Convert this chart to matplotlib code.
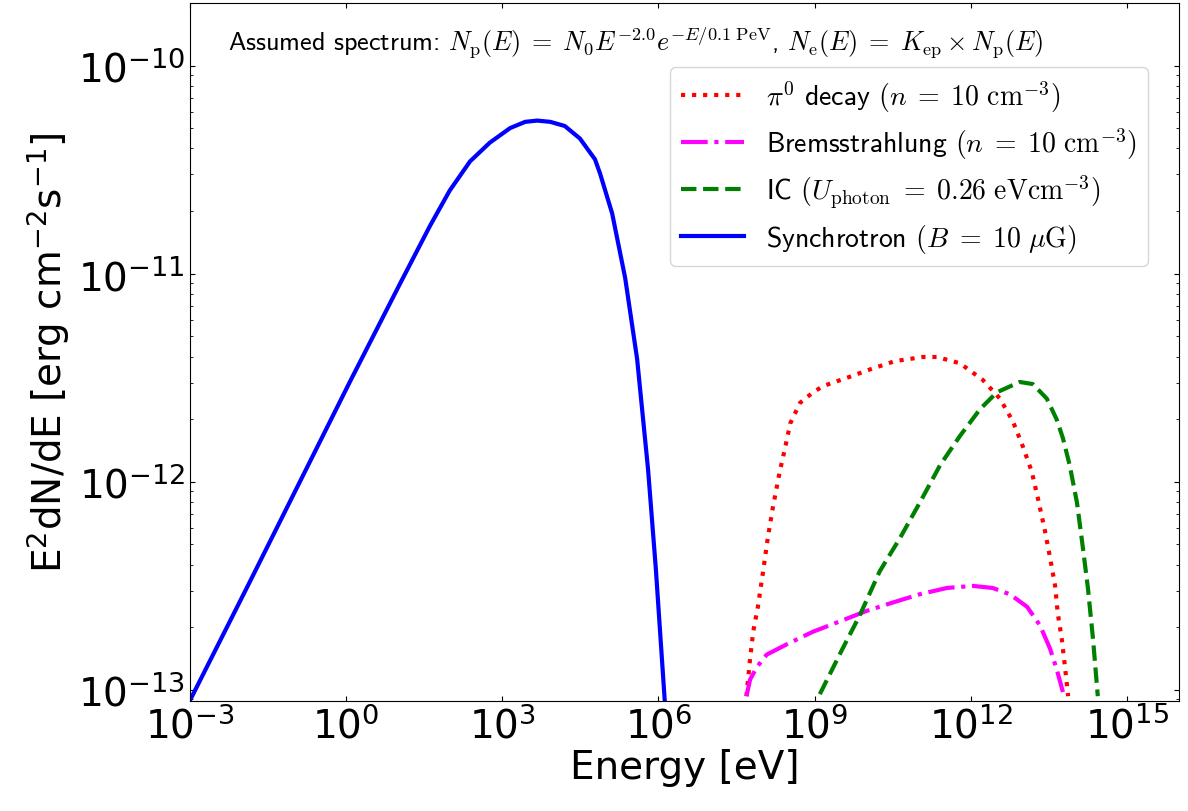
import numpy as np
import matplotlib
matplotlib.use("Agg")
import matplotlib.pyplot as plt
from matplotlib.ticker import LogLocator, NullLocator

# ---- data (log10 E [eV], log10 E^2 dN/dE [erg cm^-2 s^-1]) ----
pi0_logE = [7.69, 7.76, 7.82, 7.91, 8.01, 8.10, 8.20, 8.33, 8.43, 8.53, 8.72, 8.97,
            9.16, 9.62, 10.06, 10.54, 11.08, 11.35, 11.79, 12.23, 12.56, 12.81, 13.00,
            13.17, 13.29, 13.42, 13.52, 13.62, 13.67, 13.75, 13.81, 13.87]
pi0_logF = [-13.03, -12.85, -12.72, -12.60, -12.43, -12.27, -12.12, -11.95, -11.84,
            -11.72, -11.62, -11.57, -11.54, -11.50, -11.46, -11.42, -11.40, -11.40,
            -11.43, -11.51, -11.60, -11.71, -11.83, -11.95, -12.08, -12.23, -12.36,
            -12.50, -12.63, -12.76, -12.89, -13.03]

brems_logE = [7.69, 7.76, 7.89, 8.08, 8.47, 8.97, 9.49, 10.00, 10.50, 11.02, 11.54,
              12.04, 12.42, 12.75, 13.08, 13.33, 13.52, 13.65, 13.77]
brems_logF = [-13.03, -12.95, -12.89, -12.83, -12.78, -12.72, -12.67, -12.62, -12.58,
              -12.54, -12.51, -12.50, -12.51, -12.54, -12.60, -12.69, -12.80, -12.90,
              -13.01]

ic_logE = [9.10, 9.54, 9.87, 10.25, 10.64, 11.02, 11.41, 11.79, 12.18, 12.50, 12.94,
           13.19, 13.46, 13.65, 13.77, 13.90, 14.04, 14.15, 14.25, 14.35, 14.44]
ic_logF = [-13.02, -12.80, -12.64, -12.43, -12.27, -12.10, -11.92, -11.78, -11.65,
           -11.57, -11.52, -11.53, -11.60, -11.70, -11.79, -11.92, -12.10, -12.31,
           -12.51, -12.76, -13.03]

sync_logE = [-3.0, -1.85, -0.89, 0.07, 1.03, 1.61, 1.99, 2.38, 2.76, 3.15, 3.44, 3.67,
             3.92, 4.20, 4.49, 4.78, 4.88, 5.11, 5.36, 5.59, 5.80, 5.95, 6.12, 6.16]
sync_logF = [-13.05, -12.48, -12.00, -11.52, -11.05, -10.77, -10.60, -10.46, -10.37,
             -10.30, -10.27, -10.264, -10.27, -10.29, -10.35, -10.45, -10.52, -10.71,
             -11.02, -11.41, -11.94, -12.42, -13.05, -13.15]

labels = [r'$\pi^0$ decay $(n\;=\;10\ \mathrm{cm}^{-3})$',
          r'Bremsstrahlung $(n\;=\;10\ \mathrm{cm}^{-3})$',
          r'IC $(U_\mathrm{photon}\;=\;0.26\ \mathrm{eV cm}^{-3})$',
          r'Synchrotron $(B\;=\;10\ \mu\mathrm{G})$']
annotation = (r'Assumed spectrum: $N_\mathrm{p}(E)\;=\;N_0 E^{-2.0} e^{-E/0.1\ \mathrm{PeV}}$, '
              r'$N_\mathrm{e}(E)\;=\;K_\mathrm{ep} \times N_\mathrm{p}(E)$')
xtick_vals = [1e-3, 1e0, 1e3, 1e6, 1e9, 1e12, 1e15]

# ---- figure ----
fig = plt.figure(figsize=(11.88, 8.12), dpi=100)
ax = fig.add_axes([190/1188, 1 - 702/812, (1179-190)/1188, (702-4)/812])

series = [
    (pi0_logE, pi0_logF, 'red', ':'),
    (brems_logE, brems_logF, 'magenta', '-.'),
    (ic_logE, ic_logF, 'green', '--'),
    (sync_logE, sync_logF, 'blue', '-'),
]
for (le, lf, c, ls), lab in zip(series, labels):
    ax.plot(10**np.array(le), 10**np.array(lf), color=c, ls=ls, lw=3, label=lab)

ax.set_xscale('log')
ax.set_yscale('log')
ax.set_xlim(1e-3, 1e16)
ax.set_ylim(8.85e-14, 2.0e-10)
ax.set_xticks(xtick_vals)
ax.xaxis.set_minor_locator(NullLocator())
ax.yaxis.set_major_locator(LogLocator(base=10))
ax.yaxis.set_minor_locator(LogLocator(base=10, subs=np.arange(2, 10)))
ax.tick_params(which='both', direction='in', top=True, right=True, labelsize=28)

ax.set_xlabel('Energy [eV]', fontsize=28, labelpad=2)
ax.set_ylabel(r'E$^2$dN/dE [erg cm$^{-2}$s$^{-1}$]', fontsize=28)

leg = ax.legend(loc='upper right', bbox_to_anchor=((1148-190)/989, (702-68)/698),
                borderaxespad=0.0, handlelength=2.25, labelspacing=0.42,
                prop={'family': 'cmss10', 'size': 20, 'math_fontfamily': 'cm'})

ax.text(0.038, 0.945, annotation, transform=ax.transAxes, ha='left', va='center',
        fontsize=18.8, family='cmss10', math_fontfamily='cm')

fig.savefig('out.png', dpi=100)
